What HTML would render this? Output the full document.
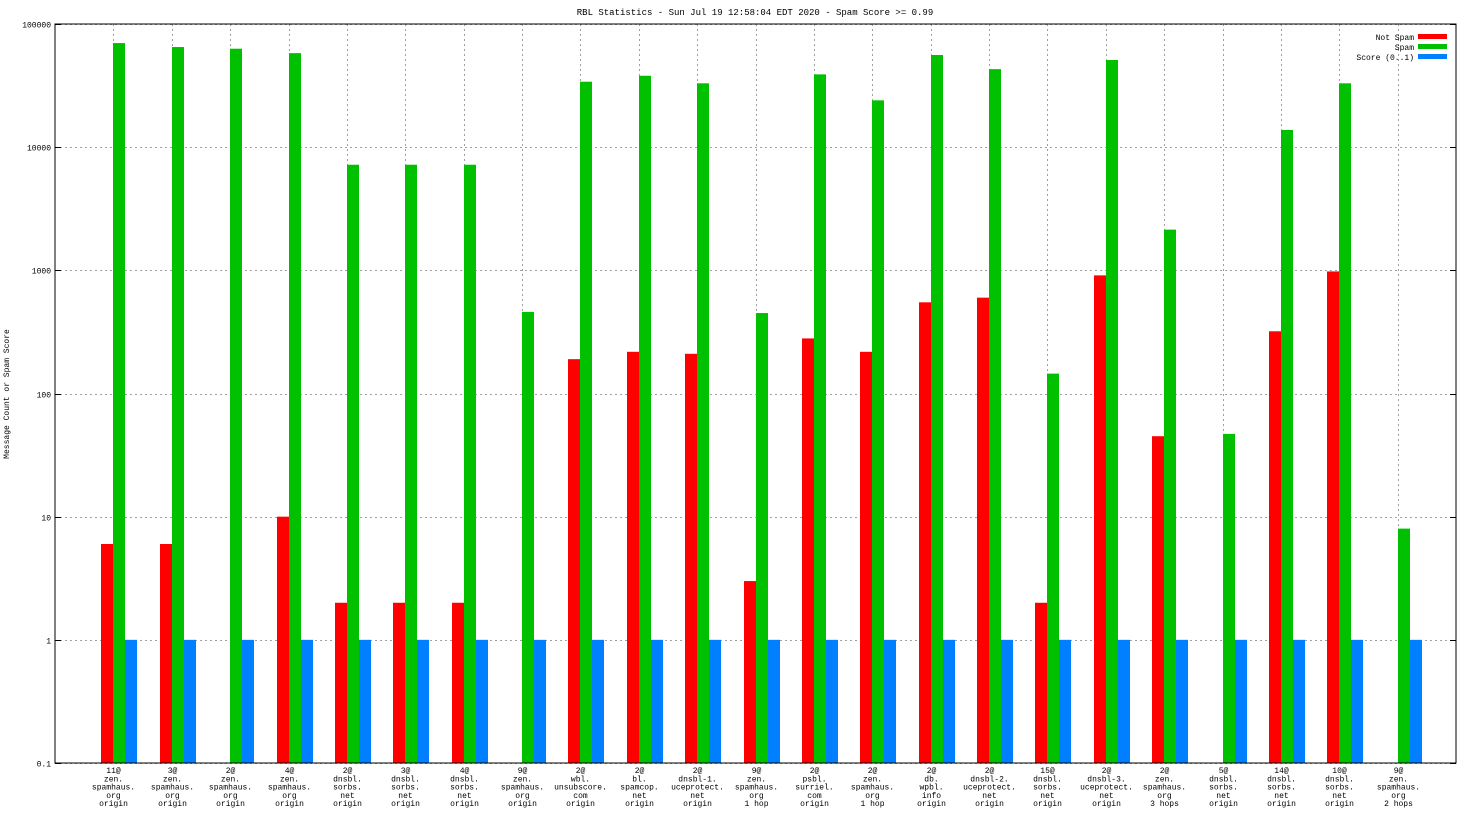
<!DOCTYPE html>
<html><head><meta charset="utf-8"><style>
html,body{margin:0;padding:0;background:#fff;}
svg{display:block;font-family:"Liberation Mono","DejaVu Sans Mono",monospace;}
</style></head><body>
<svg id="chart" width="1472" height="828" viewBox="0 0 1472 828" xmlns="http://www.w3.org/2000/svg">
<rect x="0" y="0" width="1472" height="828" fill="#fff"/>
<text x="755" y="15" font-size="9" text-anchor="middle">RBL Statistics - Sun Jul 19 12:58:04 EDT 2020 - Spam Score &gt;= 0.99</text>
<text transform="translate(9,394) rotate(-90)" font-size="8" text-anchor="middle">Message Count or Spam Score</text>
<g id="grid"></g><g id="bars"></g><g id="axes"></g>
<rect x="55" y="24" width="1401" height="739" fill="none" stroke="#000" stroke-width="1"/>
<g font-size="8">
<text x="1414" y="40" text-anchor="end">Not Spam</text>
<rect x="1418" y="34" width="29" height="5" fill="#ff0000"/>
<text x="1414" y="50" text-anchor="end">Spam</text>
<rect x="1418" y="44" width="29" height="5" fill="#00c000"/>
<text x="1414" y="60" text-anchor="end">Score (0..1)</text>
<rect x="1418" y="54" width="29" height="5" fill="#0080ff"/>
</g>
</svg>
<script>
const categories=[["11@","zen.","spamhaus.","org","origin"],["3@","zen.","spamhaus.","org","origin"],["2@","zen.","spamhaus.","org","origin"],["4@","zen.","spamhaus.","org","origin"],["2@","dnsbl.","sorbs.","net","origin"],["3@","dnsbl.","sorbs.","net","origin"],["4@","dnsbl.","sorbs.","net","origin"],["9@","zen.","spamhaus.","org","origin"],["2@","wbl.","unsubscore.","com","origin"],["2@","bl.","spamcop.","net","origin"],["2@","dnsbl-1.","uceprotect.","net","origin"],["9@","zen.","spamhaus.","org","1 hop"],["2@","psbl.","surriel.","com","origin"],["2@","zen.","spamhaus.","org","1 hop"],["2@","db.","wpbl.","info","origin"],["2@","dnsbl-2.","uceprotect.","net","origin"],["15@","dnsbl.","sorbs.","net","origin"],["2@","dnsbl-3.","uceprotect.","net","origin"],["2@","zen.","spamhaus.","org","3 hops"],["5@","dnsbl.","sorbs.","net","origin"],["14@","dnsbl.","sorbs.","net","origin"],["10@","dnsbl.","sorbs.","net","origin"],["9@","zen.","spamhaus.","org","2 hops"]];
const notSpam=[6,6,0,10,2,2,2,0,190,218,210,3,280,218,550,600,2,910,45,0,320,980,0];
const spam=[70000,65000,63000,58000,7200,7200,7200,460,34000,38000,33000,450,39000,24000,56000,43000,145,51000,2140,47,13800,33000,8];
const score=[1,1,1,1,1,1,1,1,1,1,1,1,1,1,1,1,1,1,1,1,1,1,1];
const yTicks=[0.1,1,10,100,1000,10000,100000];
const yTickLabels=["0.1","1","10","100","1000","10000","100000"];
const NS="http://www.w3.org/2000/svg";
const L=55,R=1456,T=24,B=763;
function y(v){return B-(Math.log10(v)+1)/6*(B-T);}
function x(i){return L+(R-L)/24*(i+1);}
function mk(t,a,p){const e=document.createElementNS(NS,t);for(const k in a)e.setAttribute(k,a[k]);p.appendChild(e);return e;}
const grid=document.getElementById('grid'),bars=document.getElementById('bars'),axes=document.getElementById('axes');
yTicks.forEach((v,k)=>{const yy=Math.round(y(v))+0.5;
 const g=mk('line',{x1:L,x2:R,y1:yy,y2:yy,stroke:'#a0a0a0','stroke-dasharray':'2,3','stroke-width':1},grid);
 
 
 mk('line',{x1:L,x2:L+6,y1:yy,y2:yy,stroke:'#000'},axes);
 mk('line',{x1:R-6,x2:R,y1:yy,y2:yy,stroke:'#000'},axes);
 const t=mk('text',{x:L-4,y:yy+3,'font-size':8,'text-anchor':'end'},axes);t.textContent=yTickLabels[k];
 
 
});
const bw=12;
categories.forEach((c,i)=>{const cx=Math.round(x(i))+0.5;
 const g=mk('line',{x1:cx,x2:cx,y1:T,y2:B,stroke:'#a0a0a0','stroke-dasharray':'2,3','stroke-width':1},grid);
 
 
 const series=[[notSpam[i],'#ff0000',-bw,'bar-not-spam'],[spam[i],'#00c000',0,'bar-spam'],[score[i],'#0080ff',bw,'bar-score']];
 series.forEach(s=>{if(s[0]>0){const yt=y(s[0]);
  const r=mk('rect',{x:Math.round(x(i))+s[2],y:yt,width:bw,height:B-yt,fill:s[1]},bars);
  
  }});
 const t=mk('text',{x:cx,y:773,'font-size':8,'text-anchor':'middle'},axes);
 
 
 c.forEach((ln,j)=>{const ts=mk('tspan',{x:cx,dy:j?8.3:0},t);ts.textContent=ln;});
});
</script>
</body></html>
